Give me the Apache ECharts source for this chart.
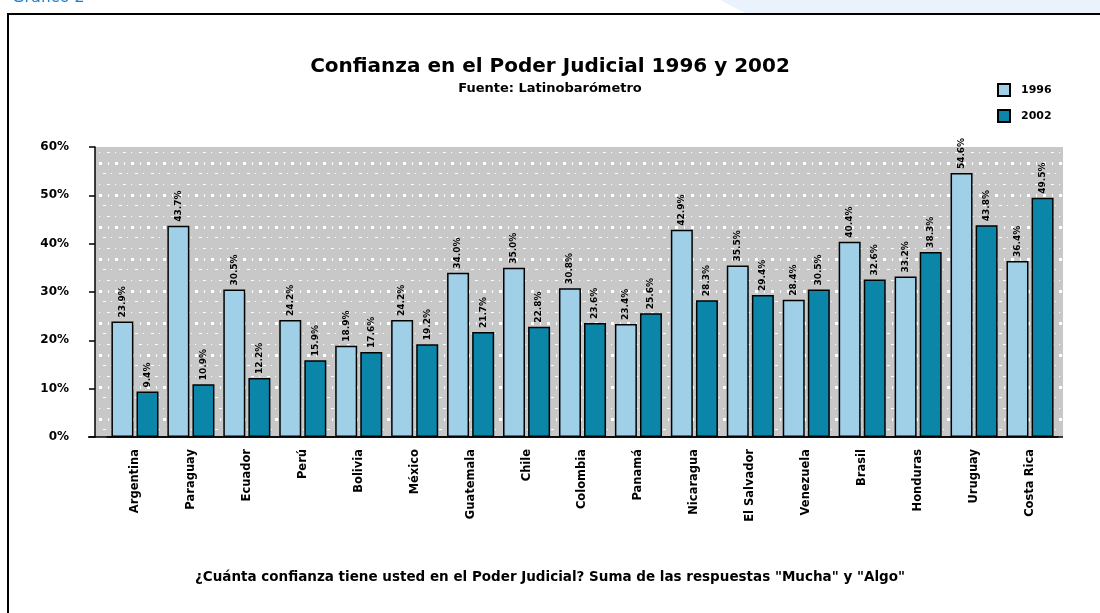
<!DOCTYPE html>
<html>
<head>
<meta charset="utf-8">
<script src="https://cdn.jsdelivr.net/npm/echarts@6/dist/echarts.min.js"></script>
<style>
  html, body { margin: 0; padding: 0; background: #fff; }
  #chart { width: 1100px; height: 613px; }
</style>
</head>
<body>
<div id="chart"></div>
<script>
// datos
const paises = ['Argentina', 'Paraguay', 'Ecuador', 'Perú', 'Bolivia', 'México', 'Guatemala', 'Chile',
  'Colombia', 'Panamá', 'Nicaragua', 'El Salvador', 'Venezuela', 'Brasil', 'Honduras', 'Uruguay', 'Costa Rica']
const valores1996 = [23.9, 43.7, 30.5, 24.2, 18.9, 24.2, 34.0, 35.0, 30.8, 23.4, 42.9, 35.5, 28.4, 40.4, 33.2, 54.6, 36.4]
const valores2002 = [9.4, 10.9, 12.2, 15.9, 17.6, 19.2, 21.7, 22.8, 23.6, 25.6, 28.3, 29.4, 30.5, 32.6, 38.3, 43.8, 49.5]
const ticksY = [0, 10, 20, 30, 40, 50, 60]

// fondo gris con puntos blancos (tres filas que se alternan)
function fondoPuntos() {
  const c = document.createElement('canvas')
  c.width = 32
  c.height = 32
  const ctx = c.getContext('2d')
  ctx.fillStyle = '#c8c8c8'
  ctx.fillRect(0, 0, 32, 32)
  ctx.fillStyle = '#ffffff'
  ctx.fillRect(3, 2, 3, 3)
  ctx.fillRect(19, 2, 3, 3)
  ctx.fillRect(12, 2, 1, 3)
  ctx.fillRect(28, 2, 1, 3)
  ctx.fillRect(7, 13, 3, 1)
  ctx.fillRect(23, 13, 3, 1)
  ctx.fillRect(15, 13, 1, 1)
  ctx.fillRect(31, 13, 1, 1)
  ctx.fillRect(3, 24, 1, 1)
  ctx.fillRect(19, 24, 1, 1)
  ctx.fillRect(11, 24, 3, 1)
  ctx.fillRect(27, 24, 3, 1)
  return c
}

const chart = echarts.init(document.getElementById('chart'))
const fuente = 'DejaVu Sans'

const etiqueta = {
  show: true,
  position: 'top',
  rotate: 90,
  align: 'left',
  verticalAlign: 'middle',
  distance: 4,
  fontFamily: fuente,
  fontWeight: 'bold',
  fontSize: 9,
  color: '#000',
  formatter: p => p.value.toFixed(1) + '%',
}

chart.setOption({
  animation: false,
  textStyle: { fontFamily: fuente },
  title: {
    text: 'Confianza en el Poder Judicial 1996 y 2002',
    subtext: 'Fuente: Latinobarómetro',
    left: 'center',
    top: 52,
    itemGap: 5,
    textStyle: { fontFamily: fuente, fontWeight: 'bold', fontSize: 20, color: '#000' },
    subtextStyle: { fontFamily: fuente, fontWeight: 'bold', fontSize: 13, color: '#000' },
  },
  legend: {
    orient: 'vertical',
    left: 992,
    top: 78,
    icon: 'rect',
    itemWidth: 12,
    itemHeight: 12,
    itemGap: 12,
    textStyle: { fontFamily: fuente, fontWeight: 'bold', fontSize: 11, color: '#000', padding: [0, 0, 0, 6] },
    data: ['1996', '2002'],
  },
  grid: {
    left: 107,
    right: 42,
    top: 147,
    bottom: 176,
  },
  xAxis: {
    type: 'category',
    data: paises,
    axisLine: { lineStyle: { color: '#000', width: 1.5 } },
    axisTick: { show: false },
    axisLabel: {
      rotate: 90,
      interval: 0,
      margin: 12,
      fontFamily: fuente,
      fontWeight: 'bold',
      fontSize: 11.5,
      color: '#000',
    },
  },
  yAxis: {
    type: 'value',
    min: 0,
    max: 60,
    interval: 10,
    offset: 12,
    axisLine: { show: true, lineStyle: { color: '#000', width: 1.5 } },
    axisTick: { show: true, length: 6, lineStyle: { color: '#000', width: 1.5 } },
    splitLine: { show: false },
    axisLabel: {
      margin: 26,
      fontFamily: fuente,
      fontWeight: 'bold',
      fontSize: 12,
      color: '#000',
      formatter: v => ticksY.includes(v) ? v + '%' : '',
    },
  },
  series: [
    {
      name: '1996',
      type: 'bar',
      data: valores1996,
      barWidth: 22,
      barGap: '14%',
      itemStyle: { color: '#9fd0e8', borderColor: '#000', borderWidth: 1.5 },
      label: etiqueta,
    },
    {
      name: '2002',
      type: 'bar',
      data: valores2002,
      barWidth: 22,
      itemStyle: { color: '#0b86a8', borderColor: '#000', borderWidth: 1.5 },
      label: etiqueta,
    },
  ],
  graphic: [
    {
      type: 'polygon',
      shape: { points: [[720, 0], [1100, 0], [1100, 13], [745, 13]] },
      style: { fill: '#eaf3fb' },
      silent: true,
      z: -20,
    },
    {
      // área de trazado punteada
      type: 'rect',
      shape: { x: 95, y: 147, width: 968, height: 290 },
      style: { fill: { image: fondoPuntos(), repeat: 'repeat' } },
      silent: true,
      z: -10,
    },
    {
      type: 'line',
      shape: { x1: 88, y1: 437, x2: 1063, y2: 437 },
      style: { stroke: '#000', lineWidth: 1.5 },
      silent: true,
    },
    {
      type: 'rect',
      shape: { x: 8, y: 14, width: 1100, height: 640 },
      style: { fill: 'none', stroke: '#000', lineWidth: 2 },
      silent: true,
    },
    {
      type: 'text',
      left: 12,
      top: -10,
      style: { text: 'Gráfico 2', fill: '#1a7fd0', font: '16px "DejaVu Sans"' },
    },
    {
      type: 'text',
      left: 'center',
      top: 570,
      style: {
        text: '¿Cuánta confianza tiene usted en el Poder Judicial? Suma de las respuestas "Mucha" y "Algo"',
        fill: '#000',
        font: 'bold 13.5px "DejaVu Sans"',
      },
    },
  ],
})
</script>
</body>
</html>
